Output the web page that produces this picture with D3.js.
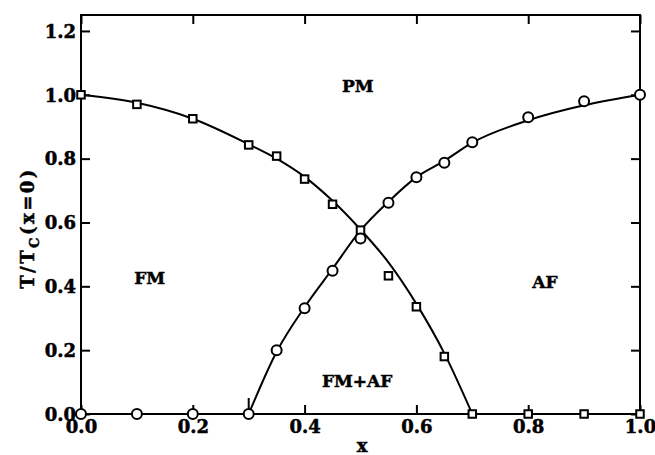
<!DOCTYPE html>
<html>
<head>
<meta charset="utf-8">
<script src="https://cdn.jsdelivr.net/npm/d3@7"></script>
<style>
  html, body { margin: 0; padding: 0; background: #fff; }
  svg { display: block; }
  text { font-family: "DejaVu Serif", "Liberation Serif", serif; font-weight: bold; fill: #000; }
</style>
</head>
<body>
<svg id="chart" width="655" height="455"></svg>
<script>
// ---- data ----
const xTicks = [0.0, 0.2, 0.4, 0.6, 0.8, 1.0];
const yTicks = [0.0, 0.2, 0.4, 0.6, 0.8, 1.0, 1.2];
const xTickLabels = ["0.0", "0.2", "0.4", "0.6", "0.8", "1.0"];
const yTickLabels = ["0.0", "0.2", "0.4", "0.6", "0.8", "1.0", "1.2"];

// FM transition (squares)
const fmX = [0.0, 0.1, 0.2, 0.3, 0.35, 0.4, 0.45, 0.5, 0.55, 0.6, 0.65, 0.7, 0.8, 0.9, 1.0];
const fmY = [1.0, 0.97, 0.925, 0.843, 0.808, 0.736, 0.657, 0.576, 0.433, 0.336, 0.18, 0.0, 0.0, 0.0, 0.0];
// AF transition (circles)
const afX = [0.0, 0.1, 0.2, 0.3, 0.35, 0.4, 0.45, 0.5, 0.55, 0.6, 0.65, 0.7, 0.8, 0.9, 1.0];
const afY = [0.0, 0.0, 0.0, 0.0, 0.2, 0.331, 0.449, 0.55, 0.662, 0.742, 0.787, 0.851, 0.93, 0.98, 1.0];

// fitted curves
const fmCurveX = [0.0, 0.1, 0.2, 0.3, 0.35, 0.4, 0.45, 0.5, 0.55, 0.6, 0.65, 0.7];
const fmCurveY = [1.0, 0.975, 0.925, 0.845, 0.80, 0.743, 0.668, 0.578, 0.475, 0.345, 0.19, 0.0];
const afCurveX = [0.3, 0.35, 0.4, 0.45, 0.5, 0.55, 0.6, 0.65, 0.7, 0.8, 0.9, 1.0];
const afCurveY = [0.0, 0.195, 0.335, 0.455, 0.575, 0.665, 0.742, 0.793, 0.85, 0.92, 0.967, 1.0];
// short vertical mark at x = 0.3
const markX = [0.3, 0.3];
const markY = [0.0, 0.05];

const regionLabels = ["PM", "FM", "AF", "FM+AF"];
const regionX = [0.495, 0.123, 0.83, 0.494];
const regionY = [1.01, 0.408, 0.395, 0.085];

// ---- layout ----
const W = 655, H = 455;
const L = 81, R = 640, T = 15, B = 414;
const x = d3.scaleLinear().domain([0, 1]).range([L, R]);
const y = d3.scaleLinear().domain([0, 1.25]).range([B, T]);

const svg = d3.select("#chart");

// frame
svg.append("rect").attr("x", L).attr("y", T).attr("width", R - L).attr("height", B - T)
  .attr("fill", "none").attr("stroke", "#000").attr("stroke-width", 2);

const tickLen = 9;
// axes (inward ticks)
const gB = svg.append("g").attr("transform", `translate(0,${B})`)
  .call(d3.axisBottom(x).tickValues(xTicks).tickSize(-tickLen).tickPadding(6)
    .tickFormat((d, i) => xTickLabels[i]));
const gTop = svg.append("g").attr("transform", `translate(0,${T})`)
  .call(d3.axisTop(x).tickValues(xTicks).tickSize(-tickLen).tickFormat(""));
const gL = svg.append("g").attr("transform", `translate(${L},0)`)
  .call(d3.axisLeft(y).tickValues(yTicks).tickSize(-tickLen).tickPadding(5)
    .tickFormat((d, i) => yTickLabels[i]));
const gR = svg.append("g").attr("transform", `translate(${R},0)`)
  .call(d3.axisRight(y).tickValues(yTicks).tickSize(-tickLen).tickFormat(""));

[gB, gTop, gL, gR].forEach(g => {
  g.select(".domain").remove();
  g.selectAll(".tick line").attr("stroke", "#000").attr("stroke-width", 2);
  g.selectAll("text").attr("font-size", 18).attr("font-family", "DejaVu Serif").attr("font-weight", "bold")
    .attr("fill", "#000").attr("stroke", "#000").attr("stroke-width", 0.5);
});
gL.selectAll("text").attr("dy", "0.35em");

// curves
const line = d3.line().x(d => x(d[0])).y(d => y(d[1])).curve(d3.curveMonotoneX);
const fmCurve = fmCurveX.map((v, i) => [v, fmCurveY[i]]);
const afCurve = afCurveX.map((v, i) => [v, afCurveY[i]]);
svg.append("path").attr("d", line(fmCurve)).attr("fill", "none").attr("stroke", "#000").attr("stroke-width", 2);
svg.append("path").attr("d", line(afCurve)).attr("fill", "none").attr("stroke", "#000").attr("stroke-width", 2);
svg.append("line").attr("x1", x(markX[0])).attr("x2", x(markX[1])).attr("y1", y(markY[0])).attr("y2", y(markY[1]))
  .attr("stroke", "#000").attr("stroke-width", 2);

// markers
const sq = 7.5;
svg.append("g").selectAll("rect").data(fmX.map((v, i) => [v, fmY[i]])).join("rect")
  .attr("x", d => x(d[0]) - sq / 2).attr("y", d => y(d[1]) - sq / 2)
  .attr("width", sq).attr("height", sq)
  .attr("fill", "#fff").attr("stroke", "#000").attr("stroke-width", 2);
svg.append("g").selectAll("circle").data(afX.map((v, i) => [v, afY[i]])).join("circle")
  .attr("cx", d => x(d[0])).attr("cy", d => y(d[1])).attr("r", 5)
  .attr("fill", "#fff").attr("stroke", "#000").attr("stroke-width", 2);

// region labels
svg.append("g").selectAll("text").data(regionLabels).join("text")
  .attr("x", (d, i) => x(regionX[i])).attr("y", (d, i) => y(regionY[i]))
  .attr("text-anchor", "middle").attr("font-size", 17)
  .attr("stroke", "#000").attr("stroke-width", 0.5).text(d => d);

// axis titles
svg.append("text").attr("x", 362).attr("y", 452).attr("text-anchor", "middle").attr("font-size", 18)
  .attr("stroke", "#000").attr("stroke-width", 0.5).text("x");

const yt = svg.append("text").attr("transform", "translate(34,228) rotate(-90)")
  .attr("text-anchor", "middle").attr("font-size", 18).attr("letter-spacing", 2.5)
  .attr("stroke", "#000").attr("stroke-width", 0.5);
yt.append("tspan").text("T/T");
yt.append("tspan").attr("font-size", 13).attr("dy", 5).text("C");
yt.append("tspan").attr("dy", -5).text("(x=0)");
</script>
</body>
</html>
